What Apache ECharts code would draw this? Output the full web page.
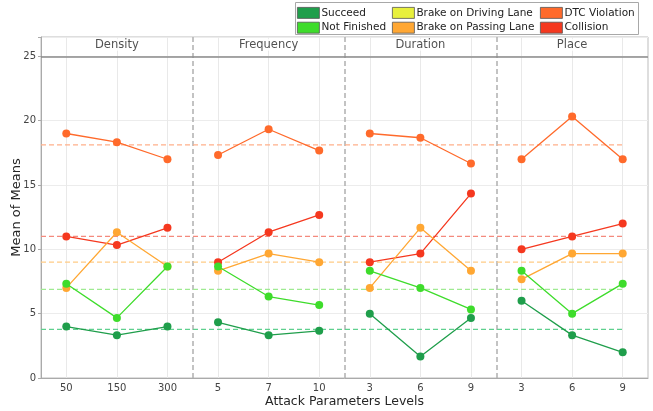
<!DOCTYPE html>
<html>
<head>
<meta charset="utf-8">
<style>
  html, body { margin: 0; padding: 0; background: #fff; }
  #chart { width: 653px; height: 411px; }
</style>
<script src="https://cdn.jsdelivr.net/npm/echarts@6/dist/echarts.min.js"></script>
</head>
<body>
<div id="chart"></div>
<script>
// Attack parameter levels, three per factor panel
const levels = ['50', '150', '300', '5', '7', '10', '3', '6', '9', '3', '6', '9'];
const panels = ['Density', 'Frequency', 'Duration', 'Place'];

// Mean of means for each outcome at every level (panel order as above)
const succeed      = [4.00, 3.33, 4.00,  4.33, 3.33, 3.67,  5.00, 1.67, 4.67,  6.00, 3.33, 2.00];
const notFinished  = [7.33, 4.67, 8.67,  8.67, 6.33, 5.67,  8.33, 7.00, 5.33,  8.33, 5.00, 7.33];
const brakeDriving = [];
const brakePassing = [7.00, 11.33, 8.67, 8.33, 9.67, 9.00,  7.00, 11.67, 8.33, 7.67, 9.67, 9.67];
const dtcViolation = [19.00, 18.33, 17.00, 17.33, 19.33, 17.67, 19.00, 18.67, 16.67, 17.00, 20.33, 17.00];
const collision    = [11.00, 10.33, 11.67, 9.00, 11.33, 12.67, 9.00, 9.67, 14.33, 10.00, 11.00, 12.00];

const outcomes = [
  { name: 'Succeed',               values: succeed,      color: '#1f9e4b', meanColor: '#5fd08e' },
  { name: 'Not Finished',          values: notFinished,  color: '#3edc2b', meanColor: '#9fea92' },
  { name: 'Brake on Driving Lane', values: brakeDriving, color: '#e8f03c', meanColor: '#f3f79c' },
  { name: 'Brake on Passing Lane', values: brakePassing, color: '#ffa733', meanColor: '#ffcb85' },
  { name: 'DTC Violation',         values: dtcViolation, color: '#ff6a2b', meanColor: '#ffb08a' },
  { name: 'Collision',             values: collision,    color: '#f5381f', meanColor: '#f48a7e' }
];
// back-to-front drawing order
const drawOrder = ['DTC Violation', 'Collision', 'Brake on Passing Lane', 'Not Finished', 'Succeed'];

const FONT = 'DejaVu Sans';

function mean(arr) {
  return arr.reduce((s, v) => s + v, 0) / arr.length;
}

const series = [];

// level grid lines, panel dividers and the strip rule under the panel titles
const gridLines = levels.map((_, i) => ({ xAxis: i + 0.5, lineStyle: { color: '#e9e9e9', width: 1, type: 'solid' } }));
const dividers = [3, 6, 9].map(x => ({ xAxis: x, lineStyle: { color: '#b0b0b0', width: 1.5, type: [5, 3] } }));
series.push({
  type: 'line',
  xAxisIndex: 1,
  z: 1,
  silent: true,
  symbol: 'none',
  data: [],
  markLine: {
    z: 1,
    silent: true, symbol: 'none', label: { show: false },
    data: gridLines.concat(dividers).concat([
      { yAxis: 25, lineStyle: { color: '#8a8a8a', width: 1.5, type: 'solid' } }
    ])
  }
});

// panel titles in the strip
series.push({
  type: 'scatter',
  xAxisIndex: 1,
  z: 20,
  silent: true,
  symbolSize: 0,
  data: panels.map((p, i) => ({ value: [i * 3 + 1.5, 25.9], name: p })),
  label: {
    show: true, position: 'inside', formatter: '{b}',
    fontFamily: FONT, fontSize: 11.5, color: '#262626',
    backgroundColor: '#fff', padding: [0, 1]
  }
});

// grand mean reference lines
outcomes.forEach(o => {
  if (!o.values.length) return;
  const m = mean(o.values);
  series.push({
    name: o.name + ' mean',
    type: 'line',
    xAxisIndex: 1,
    z: 2,
    silent: true,
    symbol: 'none',
    data: [[0, m], [11.5, m]],
    lineStyle: { color: o.meanColor, width: 1.2, type: [5, 3] }
  });
});

// one polyline per outcome and panel
outcomes.filter(o => !o.values.length).forEach(o => {
  series.push({ name: o.name, type: 'line', data: [], itemStyle: { color: o.color } });
});
drawOrder.forEach((nm, k) => {
  const o = outcomes.find(x => x.name === nm);
  panels.forEach((p, pi) => {
    series.push({
      name: o.name,
      type: 'line',
      xAxisIndex: 0,
      z: 3 + k,
      symbol: 'circle',
      symbolSize: 8,
      data: o.values.map((v, i) => Math.floor(i / 3) === pi ? v : '-'),
      itemStyle: { color: o.color },
      lineStyle: { color: o.color, width: 1.3 },
      emphasis: { disabled: true }
    });
  });
});

function legendCol(left, names) {
  return {
    orient: 'vertical', left: left, top: 7, padding: 0,
    itemWidth: 22, itemHeight: 11, itemGap: 3,
    icon: 'rect', selectedMode: false,
    itemStyle: { borderColor: '#555', borderWidth: 0.8 },
    textStyle: { fontFamily: FONT, fontSize: 10.5, color: '#222', padding: [0, 0, 0, -3] },
    data: names
  };
}

const option = {
  animation: false,
  textStyle: { fontFamily: FONT },
  graphic: [{
    type: 'rect', left: 295, top: 2, z: 0,
    shape: { width: 343, height: 32 },
    style: { fill: '#fff', stroke: '#a8a8a8', lineWidth: 1 }
  }],
  legend: [
    legendCol(297, ['Succeed', 'Not Finished']),
    legendCol(392, ['Brake on Driving Lane', 'Brake on Passing Lane']),
    legendCol(540, ['DTC Violation', 'Collision'])
  ],
  grid: {
    left: 41, right: 5, top: 37, bottom: 33,
    outerBoundsMode: 'none', containLabel: false,
    show: true, borderColor: '#bdbdbd', borderWidth: 1
  },
  xAxis: [{
    type: 'category',
    data: levels,
    boundaryGap: true,
    axisLine: { lineStyle: { color: '#aaa' } },
    axisTick: { alignWithLabel: true, length: 4, lineStyle: { color: '#aaa' } },
    axisLabel: { fontFamily: FONT, fontSize: 10, color: '#444', margin: 5 },
    splitLine: { show: false },
    name: 'Attack Parameters Levels',
    nameLocation: 'middle',
    nameMoveOverlap: false,
    nameGap: 17.5,
    nameTextStyle: { fontFamily: FONT, fontSize: 12.5, color: '#262626' }
  }, {
    type: 'value', min: 0, max: 12, show: false
  }],
  yAxis: {
    type: 'value', min: 0, max: 26.5, interval: 5,
    axisLine: { show: true, lineStyle: { color: '#aaa' } },
    axisTick: { show: true, length: 3, lineStyle: { color: '#aaa' } },
    axisLabel: {
      fontFamily: FONT, fontSize: 10, color: '#444', margin: 5,
      formatter: v => (v % 5 === 0 && v <= 25) ? String(v) : ''
    },
    splitLine: { lineStyle: { color: '#ececec' } },
    name: 'Mean of Means',
    nameLocation: 'middle',
    nameMoveOverlap: false,
    nameGap: 18,
    nameTextStyle: { fontFamily: FONT, fontSize: 13, color: '#262626' }
  },
  series: series
};

echarts.init(document.getElementById('chart'), null, { renderer: 'canvas' }).setOption(option);
</script>
</body>
</html>
